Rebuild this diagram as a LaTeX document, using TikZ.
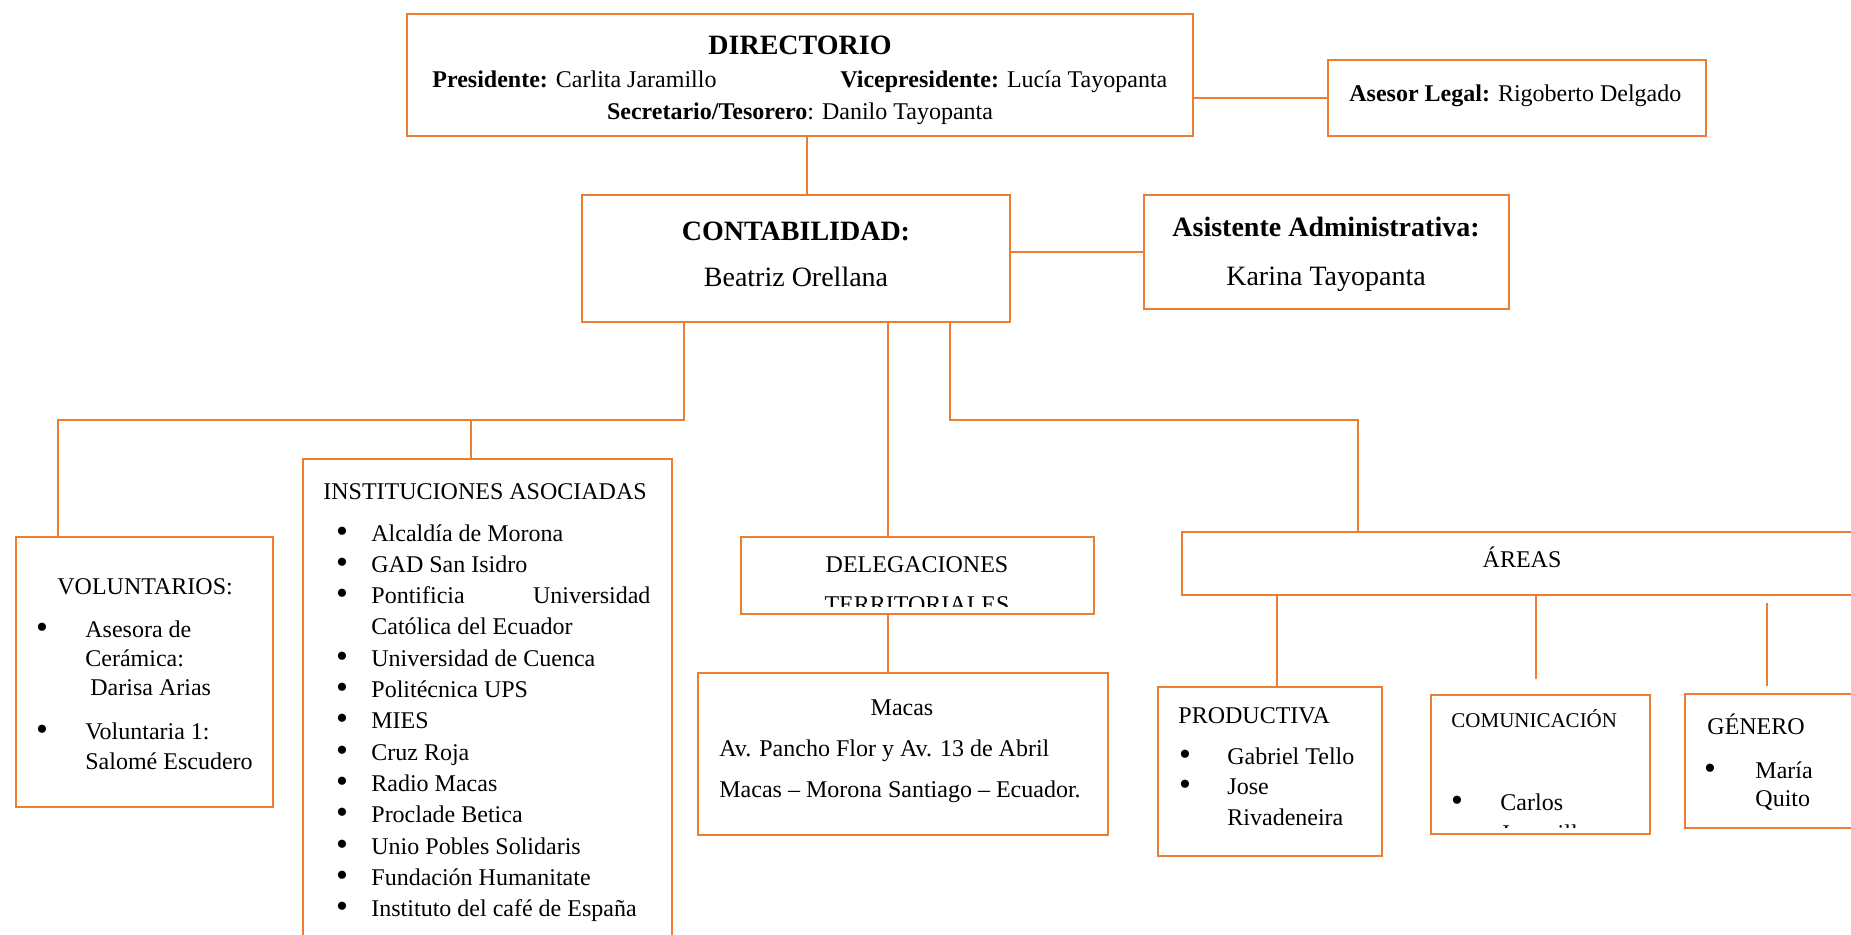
\documentclass[tikz,border=0pt]{standalone}
\usepackage{fontspec}
\setmainfont{Liberation Serif}
\usetikzlibrary{fit}
\usetikzlibrary{positioning}

\definecolor{naranja}{RGB}{237,125,49}

\begin{document}
\begin{tikzpicture}
        [x=0.5pt, y=-0.5pt,
         caja/.style={draw=naranja, line width=1.1pt, inner sep=0pt},
         linea/.style={draw=naranja, line width=0.6pt},
         txt/.style={inner sep=0pt, anchor=base west, font=\fontsize{12}{14}\selectfont},
         ctxt/.style={txt, anchor=base},
         vineta/.style={inner sep=0pt, anchor=base, text height=6pt, text depth=0pt,
                        font=\fontsize{17}{17}\selectfont},
         grande/.style={ctxt, font=\fontsize{14}{17}\selectfont}]
        \clip (0,0) rectangle (1851,934);

        % cajas
        \node [caja, fit={(407,14) (1193,136)}] (dir) {};
        \node [caja, fit={(1328,60) (1706,136)}] (legal) {};
        \node [caja, fit={(582,195) (1010,322)}] (cont) {};
        \node [caja, fit={(1144,195) (1509,309)}] (asist) {};
        \node [caja, fit={(16,537) (273,807)}] (volun) {};
        \node [caja, fit={(303,459) (672,960)}] (inst) {};
        \node [caja, fit={(741,537) (1094,614)}] (deleg) {};
        \node [caja, fit={(698,673) (1108,835)}] (macas) {};
        \node [caja, fit={(1182,532) (1900,595)}] (areas) {};
        \node [caja, fit={(1158,687) (1382,856)}] (prod) {};
        \node [caja, fit={(1431,695) (1650,834)}] (comu) {};
        \node [caja, fit={(1685,694) (1900,828)}] (gen) {};

        % conectores
        \coordinate (izq) at (684,420);
        \coordinate (vol) at (58,420);
        \coordinate (ins) at (471,420);
        \coordinate (der) at (950,420);
        \coordinate (are) at (1358,420);
        \coordinate (fincomu) at (1536,679);
        \coordinate (inigen) at (1767,603);
        \coordinate (fingen) at (1767,686);
        \draw [linea] (legal.west) -- (legal.west -| dir.east);
        \draw [linea] (dir.south -| 807,0) -- (cont.north -| 807,0);
        \draw [linea] (asist.west) -- (asist.west -| cont.east);
        \draw [linea] (cont.south -| izq) -- (izq) -- (vol) -- (vol |- volun.north);
        \draw [linea] (ins) -- (ins |- inst.north);
        \draw [linea] (cont.south -| 888,0) -- (deleg.north -| 888,0);
        \draw [linea] (deleg.south -| 888,0) -- (macas.north -| 888,0);
        \draw [linea] (cont.south -| der) -- (der) -- (are) -- (are |- areas.north);
        \draw [linea] (areas.south -| 1277,0) -- (prod.north -| 1277,0);
        \draw [linea] (areas.south -| fincomu) -- (fincomu);
        \draw [linea] (inigen) -- (fingen);

        % directorio
        \node [grande, font=\fontsize{14}{17}\selectfont\bfseries] (dirt) at (800,54) {DIRECTORIO};
        \node [txt] (pres) at (432,87) {\textbf{Presidente:} Carlita Jaramillo};
        \node [txt] (vice) at (840,87) {\textbf{Vicepresidente:} Lucía Tayopanta};
        \node [ctxt] (secr) at (800,119) {\textbf{Secretario/Tesorero}: Danilo Tayopanta};
        \node [txt] (aset) at (1349,101) {\textbf{Asesor Legal:} Rigoberto Delgado};

        % contabilidad y asistente
        \node [grande, font=\fontsize{14}{17}\selectfont\bfseries] (contt) at (796,240) {CONTABILIDAD:};
        \node [grande] (contn) at (796,286) {Beatriz Orellana};
        \node [grande, font=\fontsize{14}{17}\selectfont\bfseries] (asistt) at (1326,236) {Asistente Administrativa:};
        \node [grande] (asistn) at (1326,285) {Karina Tayopanta};

        % voluntarios
        \node [txt] (volt) at (57,594) {VOLUNTARIOS:};
        \node [vineta] (vb1) at (42,638) {\textbullet};
        \node [vineta] (vb2) at (42,740) {\textbullet};
        \node [txt] (v1) at (85,637) {Asesora de};
        \node [txt] (v2) at (85,666) {Cerámica:};
        \node [txt] (v3) at (90,695) {Darisa Arias};
        \node [txt] (v4) at (85,739) {Voluntaria 1:};
        \node [txt] (v5) at (85,769) {Salomé Escudero};

        % instituciones
        \node [txt] (instt) at (323,499) {INSTITUCIONES ASOCIADAS};
        \foreach \i/\nom in {0/Alcaldía de Morona, 1/GAD San Isidro,
            2/{\hbox to 139.5pt{Pontificia\hfill Universidad}},
            4/Universidad de Cuenca, 5/Politécnica UPS, 6/MIES, 7/Cruz Roja,
            8/Radio Macas, 9/Proclade Betica, 10/Unio Pobles Solidaris,
            11/Fundación Humanitate, 12/Instituto del café de España}
        {
            \node [vineta] (ib\i) at (342,542+31.3*\i) {\textbullet};
            \node [txt] (i\i) at (371,541+31.3*\i) {\nom};
        }
        \node [txt] (i3) at (371,541+31.3*3) {Católica del Ecuador};

        % delegaciones
        \node [ctxt] (delt) at (917,572) {DELEGACIONES};
        \begin{scope}
            \clip (741,537) rectangle (1094,606);
            \node [ctxt] (delt2) at (917,612) {TERRITORIALES};
        \end{scope}
        \node [ctxt] (mac1) at (902,715) {Macas};
        \node [txt] (mac2) at (719,756) {Av. Pancho Flor y Av. 13 de Abril};
        \node [txt] (mac3) at (719,797) {Macas – Morona Santiago – Ecuador.};

        % areas
        \node [ctxt] (aret) at (1522,567) {ÁREAS};
        \node [txt] (prodt) at (1178,723) {PRODUCTIVA};
        \node [vineta] (pb1) at (1185,765) {\textbullet};
        \node [vineta] (pb2) at (1185,795) {\textbullet};
        \node [txt] (p1) at (1227,764) {Gabriel Tello};
        \node [txt] (p2) at (1227,794) {Jose};
        \node [txt] (p3) at (1227,825) {Rivadeneira};
        \node [txt, font=\fontsize{10.5}{12}\selectfont] (comut) at (1451,727) {COMUNICACIÓN};
        \node [vineta] (cb1) at (1457,811) {\textbullet};
        \node [txt] (c1) at (1500,810) {Carlos};
        \begin{scope}
            \clip (1431,695) rectangle (1650,827);
            \node [txt] (c2) at (1500,841) {Jaramillo};
        \end{scope}
        \node [txt] (gent) at (1707,734) {GÉNERO};
        \node [vineta] (gb1) at (1710,779) {\textbullet};
        \node [txt] (g1) at (1755,778) {María};
        \node [txt] (g2) at (1755,806) {Quito};
\end{tikzpicture}
\end{document}
